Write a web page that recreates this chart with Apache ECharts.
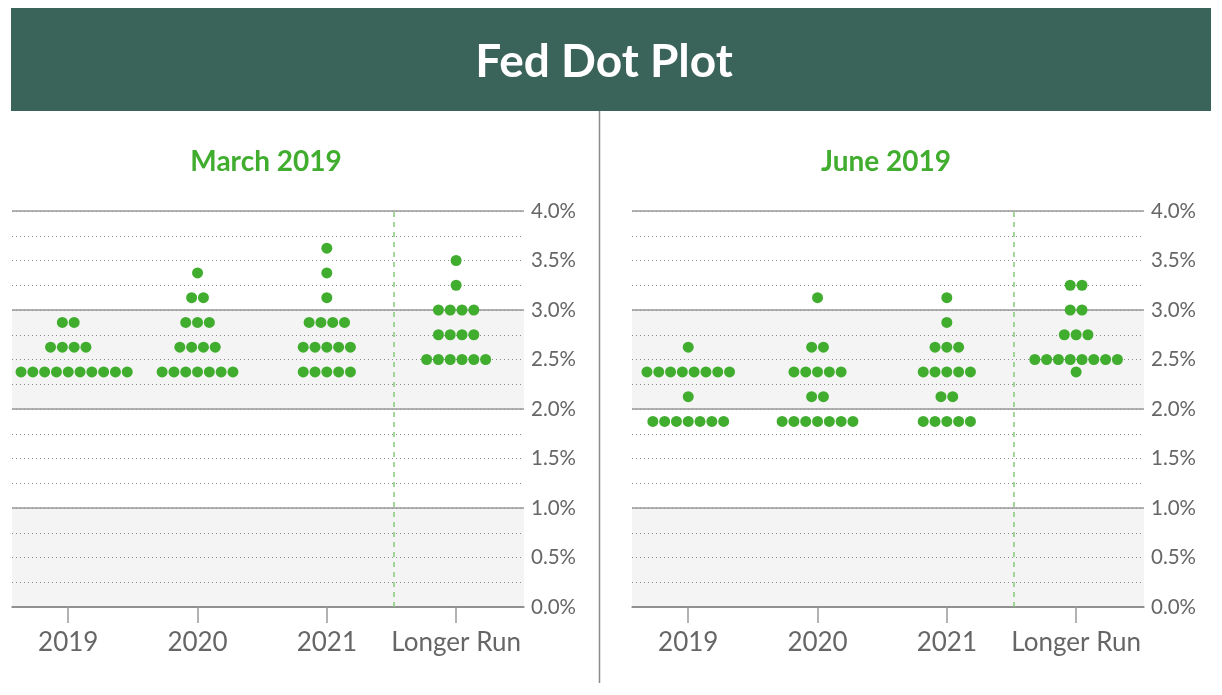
<!DOCTYPE html>
<html>
<head>
<meta charset="utf-8">
<script src="https://cdn.jsdelivr.net/npm/echarts@6/dist/echarts.min.js"></script>
<style>html,body{margin:0;padding:0;background:#fff;}#c{width:1222px;height:695px;}</style>
</head>
<body>
<div id="c"></div>
<script>
const categories = ['2019', '2020', '2021', 'Longer Run'];
const panelTitles = ['March 2019', 'June 2019'];

// [rate, number of dots]
const march2019 = [[2.375, 11], [2.625, 4], [2.875, 2]];
const march2020 = [[2.375, 7], [2.625, 4], [2.875, 3], [3.125, 2], [3.375, 1]];
const march2021 = [[2.375, 5], [2.625, 5], [2.875, 4], [3.125, 1], [3.375, 1], [3.625, 1]];
const marchLonger = [[2.5, 6], [2.75, 4], [3.0, 4], [3.25, 1], [3.5, 1]];

const june2019 = [[1.875, 7], [2.125, 1], [2.375, 8], [2.625, 1]];
const june2020 = [[1.875, 7], [2.125, 2], [2.375, 5], [2.625, 2], [3.125, 1]];
const june2021 = [[1.875, 5], [2.125, 2], [2.375, 5], [2.625, 3], [2.875, 1], [3.125, 1]];
const juneLonger = [[2.375, 1], [2.5, 8], [2.75, 3], [3.0, 2], [3.25, 2]];

const panels = [
  [march2019, march2020, march2021, marchLonger],
  [june2019, june2020, june2021, juneLonger]
];

const FONT = 'Lato';
const DOT = '#41ad2f';
const X_MIN = -0.435, X_MAX = 3.525;
const GRID_W = 512;
const DOT_STEP_PX = 11.8;
const stepUnits = DOT_STEP_PX * (X_MAX - X_MIN) / GRID_W;

function buildDots(panel) {
  const pts = [];
  panel.forEach((rows, ci) => {
    rows.forEach(([rate, n]) => {
      for (let i = 0; i < n; i++) {
        pts.push([ci + (i - (n - 1) / 2) * stepUnits, rate]);
      }
    });
  });
  return pts;
}

const grids = [
  { left: 12, top: 211, width: GRID_W, height: 396 },
  { left: 632, top: 211, width: GRID_W, height: 396 }
];

const bandColors = ['#f4f4f4', '#f4f4f4', '#f4f4f4', '#f4f4f4', '#ffffff', '#ffffff', '#ffffff', '#ffffff'];

const xAxes = [], yAxes = [], series = [];
grids.forEach((g, gi) => {
  xAxes.push({
    type: 'value', gridIndex: gi, min: X_MIN, max: X_MAX,
    axisLine: { show: true, lineStyle: { color: '#888', width: 1.5 } },
    axisTick: { show: true, customValues: [0, 1, 2, 3], length: 16, lineStyle: { color: '#999', width: 1.5 } },
    axisLabel: {
      customValues: [0, 1, 2, 3],
      formatter: v => categories[Math.round(v)],
      color: '#666', fontSize: 26, fontFamily: FONT, margin: 23
    },
    splitLine: { show: false }
  });
  yAxes.push({
    type: 'value', gridIndex: gi, min: 0, max: 4, interval: 0.25, position: 'right',
    axisLine: { show: false }, axisTick: { show: false },
    axisLabel: {
      formatter: v => (Math.round(v * 100) % 50 === 0 ? v.toFixed(1) + '%' : ''),
      color: '#666', fontSize: 20.5, fontFamily: FONT, margin: 7
    },
    splitLine: { show: true, lineStyle: { type: [1, 3], color: '#8a8a8a', width: 1 } },
    splitArea: { show: true, areaStyle: { color: bandColors } }
  });
  yAxes.push({
    type: 'value', gridIndex: gi, min: 0, max: 4, interval: 1, position: 'left',
    axisLine: { show: false }, axisTick: { show: false }, axisLabel: { show: false },
    splitLine: { show: true, lineStyle: { type: 'solid', color: '#999', width: 1.5 } }
  });
  series.push({
    type: 'scatter', xAxisIndex: gi, yAxisIndex: gi * 2,
    data: buildDots(panels[gi]),
    symbol: 'circle', symbolSize: 11,
    itemStyle: { color: DOT, opacity: 1 },
    z: 5,
    markLine: {
      silent: true, symbol: ['none', 'none'], label: { show: false },
      lineStyle: { type: [5, 5], color: '#86c878', width: 1.5 },
      data: [{ xAxis: 2.52 }]
    }
  });
});

const chart = echarts.init(document.getElementById('c'), null, { renderer: 'canvas' });
chart.setOption({
  animation: false,
  backgroundColor: '#ffffff',
  grid: grids,
  xAxis: xAxes,
  yAxis: yAxes,
  series: series,
  graphic: [
    { type: 'rect', shape: { x: 11, y: 8, width: 1200, height: 103 }, style: { fill: '#3a6359' }, silent: true },
    { type: 'text', x: 604, y: 62, style: { text: 'Fed Dot Plot', fill: '#ffffff', font: 'bold 46px Lato', textAlign: 'center', textVerticalAlign: 'middle' } },
    { type: 'line', shape: { x1: 599.5, y1: 111, x2: 599.5, y2: 683 }, style: { stroke: '#8c8c8c', lineWidth: 1.5 } },
    { type: 'text', x: 266, y: 162, style: { text: panelTitles[0], fill: '#41ad2f', font: 'bold 28px Lato', textAlign: 'center', textVerticalAlign: 'middle' } },
    { type: 'text', x: 886, y: 162, style: { text: panelTitles[1], fill: '#41ad2f', font: 'bold 28px Lato', textAlign: 'center', textVerticalAlign: 'middle' } }
  ]
});
</script>
</body>
</html>
